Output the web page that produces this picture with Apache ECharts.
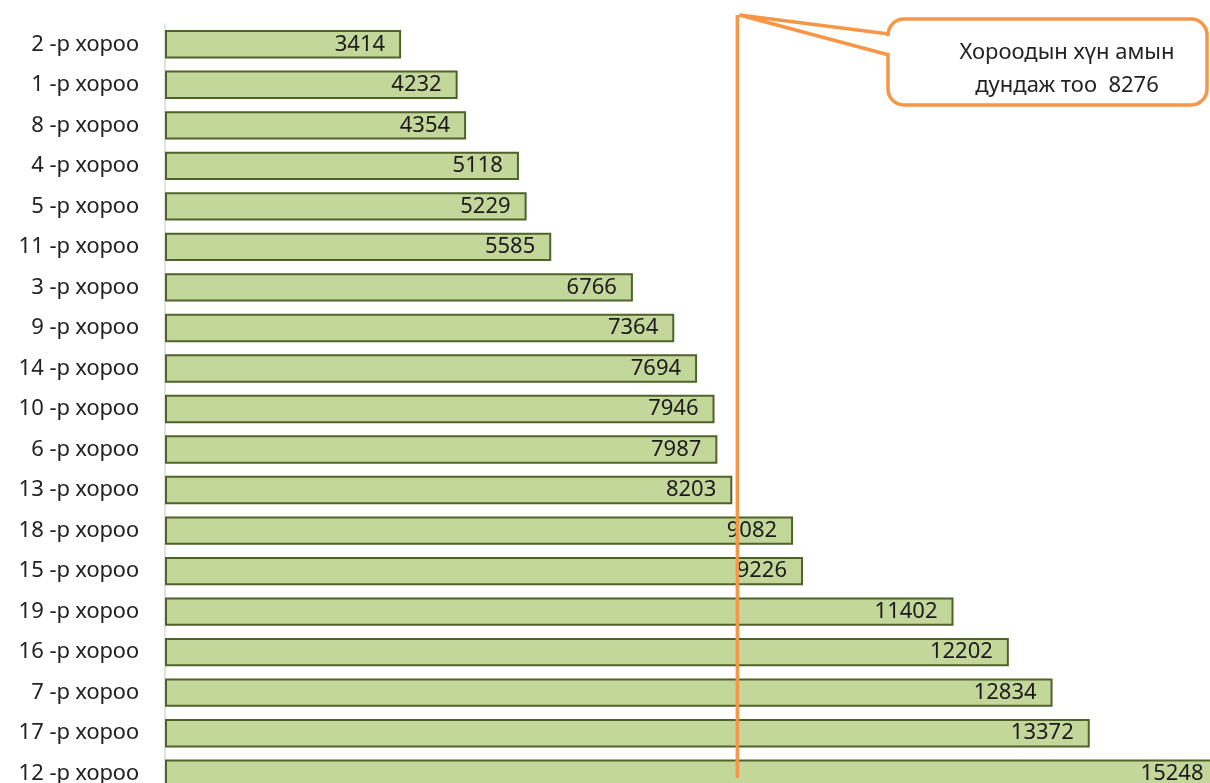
<!DOCTYPE html>
<html>
<head>
<meta charset="utf-8">
<script src="https://cdn.jsdelivr.net/npm/echarts@6/dist/echarts.min.js"></script>
<style>
  html, body { margin: 0; padding: 0; background: #fff; }
  #panel { width: 1210px; height: 783px; }
</style>
</head>
<body>
<div id="panel"></div>
<script>
// хороо бүрийн хүн ам (дээрээс доош)
var categories = ['2 -р хороо', '1 -р хороо', '8 -р хороо', '4 -р хороо', '5 -р хороо',
    '11 -р хороо', '3 -р хороо', '9 -р хороо', '14 -р хороо', '10 -р хороо', '6 -р хороо',
    '13 -р хороо', '18 -р хороо', '15 -р хороо', '19 -р хороо', '16 -р хороо', '7 -р хороо',
    '17 -р хороо', '12 -р хороо'];
var population = [3414, 4232, 4354, 5118, 5229, 5585, 6766, 7364, 7694, 7946, 7987,
    8203, 9082, 9226, 11402, 12202, 12834, 13372, 15248];
var average = 8276;
var calloutLines = ['Хороодын хүн амын', 'дундаж тоо  8276'];

var FONT = 'Noto Sans';
var ORANGE = '#f79646';

chartDom = document.getElementById('panel');
myChart = echarts.init(chartDom);

myChart.setOption({
    animation: false,
    grid: {
        left: 165, top: 24, width: 1065, height: 770,
        containLabel: false, outerBoundsMode: 'none'
    },
    xAxis: {
        type: 'value', min: 0, max: 15400, show: false
    },
    yAxis: {
        type: 'category', data: categories, inverse: true,
        axisLine: { show: true, lineStyle: { color: '#d9d9d9', width: 1.5 } },
        axisTick: { show: false },
        axisLabel: { color: '#222', fontSize: 22, fontFamily: FONT, margin: 26 }
    },
    series: [{
        type: 'bar',
        data: population,
        clip: false,
        barCategoryGap: '30%',
        itemStyle: { color: '#c4d79b', borderColor: '#4f6228', borderWidth: 2 },
        label: {
            show: true, position: 'insideRight', distance: 16,
            color: '#1a1a1a', fontSize: 22, fontFamily: FONT
        }
    }]
});

/** дундаж шугам ба тайлбар */
function drawCallout() {
    var x = myChart.convertToPixel({ xAxisIndex: 0 }, average);
    var tipY = 15;
    var bx0 = 888, by0 = 19, bx1 = 1207, by1 = 105;
    myChart.setOption({
        graphic: [
            {
                type: 'line', z: 100,
                shape: { x1: x, y1: tipY, x2: x, y2: 778 },
                style: { stroke: ORANGE, lineWidth: 3.5 }
            },
            {
                type: 'rect', z: 100,
                shape: { x: bx0, y: by0, width: bx1 - bx0, height: by1 - by0, r: 16 },
                style: { fill: '#fff', stroke: ORANGE, lineWidth: 3.5 }
            },
            {
                type: 'line', z: 101,
                shape: { x1: bx0, y1: by0 + 17, x2: bx0, y2: by0 + 34 },
                style: { stroke: '#fff', lineWidth: 5 }
            },
            {
                type: 'polyline', z: 102,
                shape: { points: [[bx0 + 1, by0 + 15], [x + 2, tipY], [bx0 + 1, by0 + 36]] },
                style: { stroke: ORANGE, lineWidth: 3.5, fill: null, lineJoin: 'miter' }
            },
            {
                type: 'text', z: 103, x: 1067, y: 53,
                style: {
                    text: calloutLines[0], fill: '#222', font: '22px "' + FONT + '"',
                    align: 'center', verticalAlign: 'middle'
                }
            },
            {
                type: 'text', z: 103, x: 1067, y: 86,
                style: {
                    text: calloutLines[1], fill: '#222', font: '22px "' + FONT + '"',
                    align: 'center', verticalAlign: 'middle'
                }
            }
        ]
    });
}
drawCallout();
</script>
</body>
</html>
